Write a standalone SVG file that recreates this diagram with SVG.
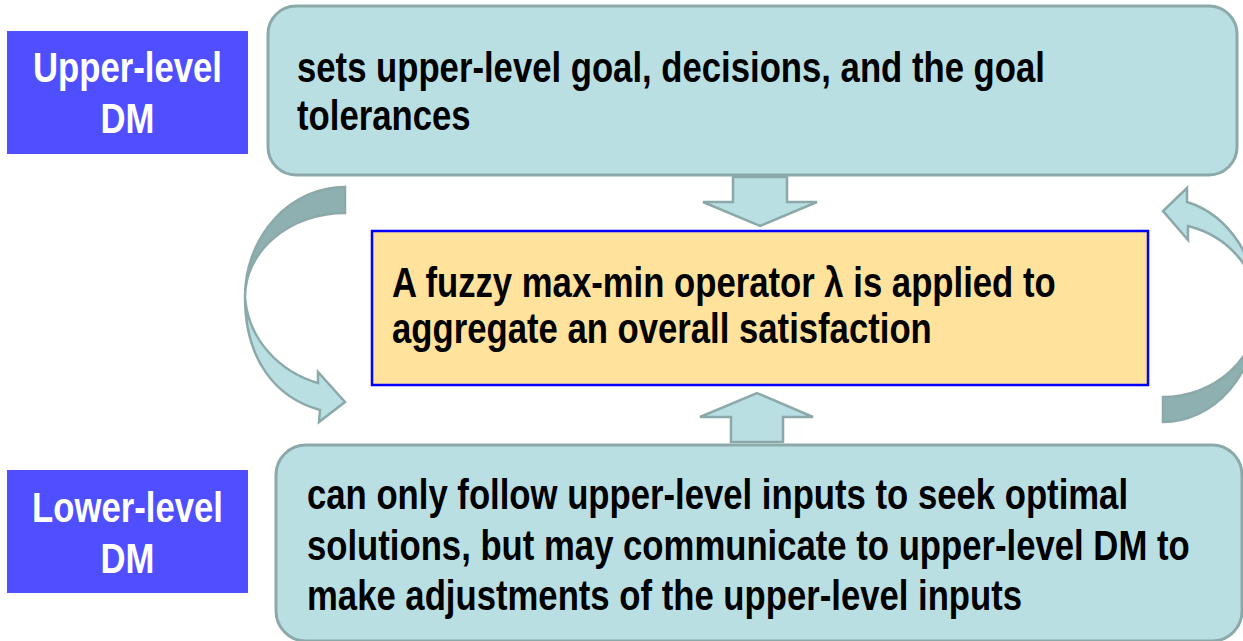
<svg xmlns="http://www.w3.org/2000/svg" width="1243" height="641" viewBox="0 0 1243 641">
<style>
  .t{font-family:"Liberation Sans",Arial,sans-serif;font-weight:bold;font-size:34.7px;fill:#000}
  .w{font-family:"Liberation Sans",Arial,sans-serif;font-weight:bold;font-size:34.7px;fill:#fff}
  .dm{fill:#4F4FFF}
  .teal{fill:#B9DFE3;stroke:#8CA9AA;stroke-width:3}
  .arr{fill:#B9DFE3;stroke:#8CA9AA;stroke-width:2.5;stroke-linejoin:miter}
  .dark{fill:#8FB0B0;stroke:#8CA9AA;stroke-width:2.5}
</style>
<rect width="1243" height="641" fill="#fff"/>
<g id="upper-dm">
  <rect class="dm" x="7" y="31" width="241" height="123"/>
  <text class="w" transform="translate(127.5,82) scale(1,1.2)" text-anchor="middle">Upper-level</text>
  <text class="w" transform="translate(127.5,133) scale(1,1.2)" text-anchor="middle">DM</text>
</g>
<g id="lower-dm">
  <rect class="dm" x="7" y="470" width="241" height="123"/>
  <text class="w" transform="translate(127.5,522) scale(1,1.2)" text-anchor="middle">Lower-level</text>
  <text class="w" transform="translate(127.5,573) scale(1,1.2)" text-anchor="middle">DM</text>
</g>
<g id="upper-task">
  <rect class="teal" x="268" y="6" width="969" height="169" rx="28"/>
  <text class="t" transform="translate(297,82) scale(1,1.2)">sets upper-level goal, decisions, and the goal</text>
  <text class="t" transform="translate(297,130) scale(1,1.2)">tolerances</text>
</g>
<g id="operator">
  <rect x="372" y="231" width="776" height="154" fill="#FFE29B" stroke="#0000FF" stroke-width="2.5"/>
  <text class="t" transform="translate(392,297) scale(1,1.2)">A fuzzy max-min operator λ is applied to</text>
  <text class="t" transform="translate(392,343) scale(1,1.2)">aggregate an overall satisfaction</text>
</g>
<g id="lower-task">
  <rect class="teal" x="276" y="445" width="966" height="196" rx="30"/>
  <text class="t" transform="translate(307,509) scale(1,1.2)">can only follow upper-level inputs to seek optimal</text>
  <text class="t" transform="translate(307,560) scale(1,1.2)">solutions, but may communicate to upper-level DM to</text>
  <text class="t" transform="translate(307,610) scale(1,1.2)">make adjustments of the upper-level inputs</text>
</g>
<g id="connectors">
  <path class="arr" d="M733,177 L787,177 L787,202 L817,202 L760,226 L703,202 L733,202 Z"/>
  <path class="arr" d="M731,442 L783,442 L783,417 L813,417 L757,393 L700,417 L731,417 Z"/>
  <path class="dark" d="M345,187 A100,110 0 0 0 245,297 A100,84 0 0 1 345,213 Z"/>
  <path class="arr" d="M245,297 C245,360 276,398 320,410 L319,422 L345,402 L318,372 L318,383 C280,372 248,340 245,297 Z"/>
  <path class="dark" d="M1258,310 A95,112 0 0 1 1163,422 L1163,397 A95,87 0 0 0 1258,310 Z"/>
  <path class="arr" d="M1258,310 A95,112 0 0 0 1187,202 L1187,188 L1163,211 L1188,240 L1188,226 A95,87 0 0 1 1258,310 Z"/>
</g>
</svg>
